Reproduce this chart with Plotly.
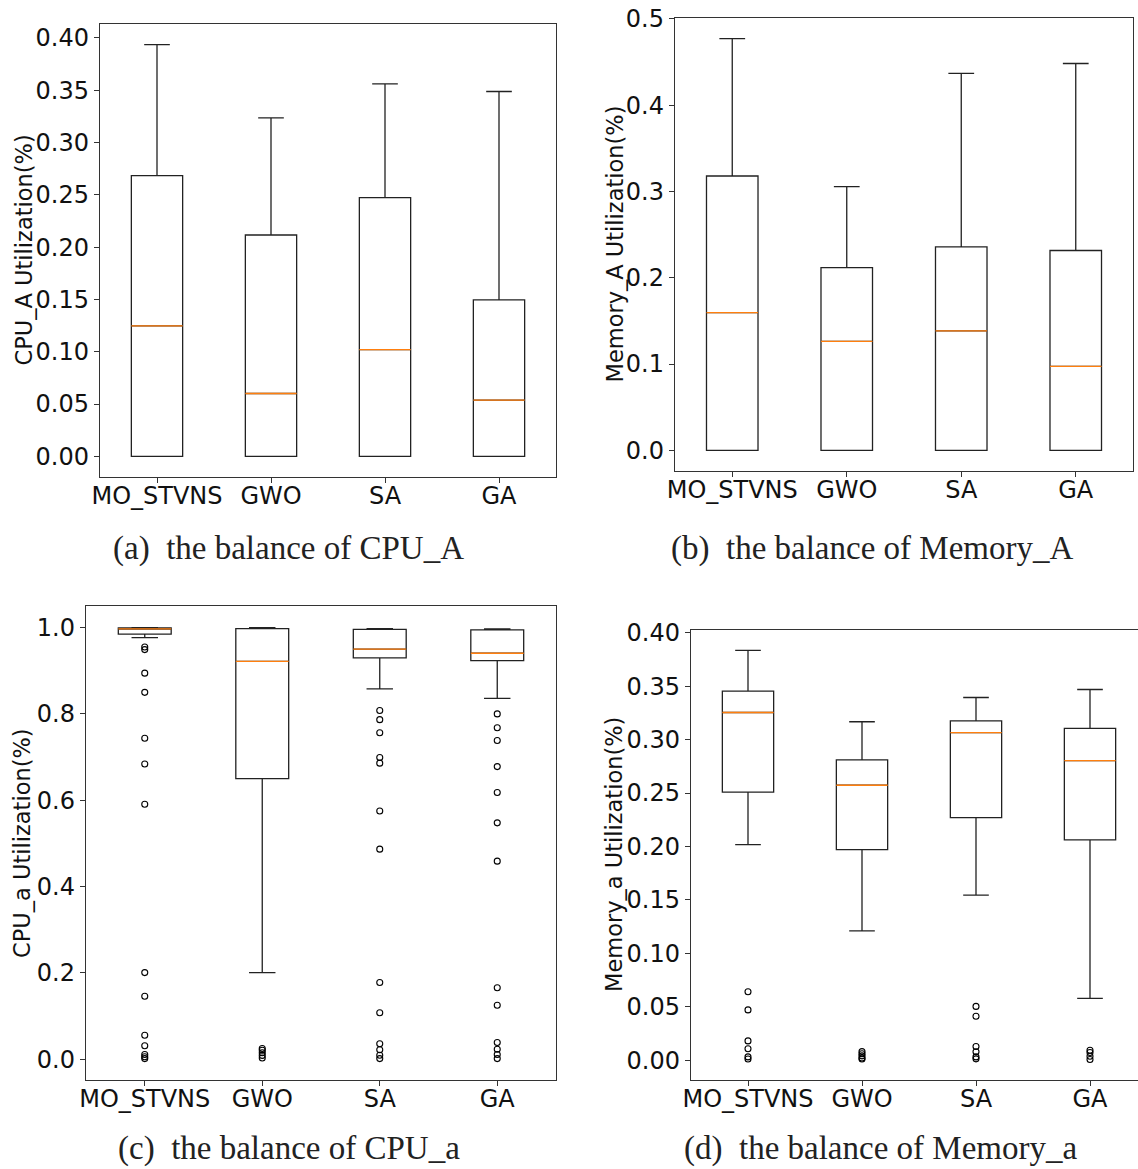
import plotly.graph_objects as go

W, H = 1138, 1169

CATS = ["MO_STVNS", "GWO", "SA", "GA"]
POS = [1, 2, 3, 4]

# (a) CPU_A
cpuA_lo = [0.0, 0.0, 0.0, 0.0]
cpuA_q1 = [0.0, 0.0, 0.0, 0.0]
cpuA_med = [0.1247, 0.0601, 0.1021, 0.0538]
cpuA_q3 = [0.2683, 0.2116, 0.2473, 0.1496]
cpuA_hi = [0.3936, 0.3236, 0.3561, 0.3488]
cpuA_out = [[], [], [], []]

# (b) Memory_A
memA_lo = [0.0, 0.0, 0.0, 0.0]
memA_q1 = [0.0, 0.0, 0.0, 0.0]
memA_med = [0.1595, 0.1262, 0.1384, 0.0974]
memA_q3 = [0.3179, 0.2117, 0.2359, 0.2316]
memA_hi = [0.4771, 0.3057, 0.4368, 0.4483]
memA_out = [[], [], [], []]

# (c) CPU_a
cpua_lo = [0.9766, 0.2008, 0.8578, 0.8360]
cpua_q1 = [0.9850, 0.6500, 0.9297, 0.9234]
cpua_med = [0.9970, 0.9219, 0.9500, 0.9406]
cpua_q3 = [0.9990, 0.9977, 0.9960, 0.9945]
cpua_hi = [1.0000, 1.0000, 0.9977, 0.9969]
cpua_out = [
    [0.955, 0.949, 0.8945, 0.85, 0.7437, 0.684, 0.5906, 0.2008, 0.146, 0.0555, 0.0313, 0.011, 0.006, 0.0016],
    [0.025, 0.021, 0.015, 0.009, 0.003],
    [0.8078, 0.7867, 0.7563, 0.6992, 0.686, 0.575, 0.4867, 0.178, 0.1078, 0.0359, 0.0219, 0.0094, 0.0016],
    [0.80, 0.768, 0.7383, 0.678, 0.618, 0.5477, 0.459, 0.1656, 0.125, 0.039, 0.0234, 0.011, 0.0016],
]

# (d) Memory_a
mema_lo = [0.2017, 0.1209, 0.1545, 0.0578]
mema_q1 = [0.2508, 0.1970, 0.2269, 0.2061]
mema_med = [0.3254, 0.2573, 0.3065, 0.2803]
mema_q3 = [0.3453, 0.2810, 0.3176, 0.3105]
mema_hi = [0.3835, 0.3167, 0.3394, 0.3469]
mema_out = [
    [0.064, 0.047, 0.018, 0.0106, 0.003, 0.001],
    [0.008, 0.006, 0.004, 0.002, 0.001],
    [0.0503, 0.041, 0.0127, 0.0078, 0.003, 0.0012],
    [0.0093, 0.0071, 0.0037, 0.0006],
]

Y_TITLES = ["CPU_A Utilization(%)", "Memory_A Utilization(%)",
            "CPU_a Utilization(%)", "Memory_a Utilization(%)"]
CAPTIONS = ["(a)\u2002the balance of CPU_A", "(b)\u2002the balance of Memory_A",
            "(c)\u2002the balance of CPU_a", "(d)\u2002the balance of Memory_a"]

panels = [
    dict(lo=cpuA_lo, q1=cpuA_q1, med=cpuA_med, q3=cpuA_q3, hi=cpuA_hi, out=cpuA_out,
         px=(100, 556), py=(24, 477), yr=(-0.0197, 0.4133), xr=(0.5, 4.5),
         dtick=0.05, fmt=".2f", mirror=True, tx=23, cap=(288, 549)),
    dict(lo=memA_lo, q1=memA_q1, med=memA_med, q3=memA_q3, hi=memA_hi, out=memA_out,
         px=(675, 1133), py=(18, 471), yr=(-0.0239, 0.501), xr=(0.5, 4.5),
         dtick=0.1, fmt=".1f", mirror=True, tx=614, cap=(872, 549)),
    dict(lo=cpua_lo, q1=cpua_q1, med=cpua_med, q3=cpua_q3, hi=cpua_hi, out=cpua_out,
         px=(86, 556), py=(606, 1080), yr=(-0.048, 1.05), xr=(0.5, 4.5),
         dtick=0.2, fmt=".1f", mirror=True, tx=22, cap=(289, None)),
    dict(lo=mema_lo, q1=mema_q1, med=mema_med, q3=mema_q3, hi=mema_hi, out=mema_out,
         px=(691, 1138), py=(630, 1080), yr=(-0.0186, 0.4026), xr=(0.5, 0.5 + 447 / 114),
         dtick=0.05, fmt=".2f", mirror=False, tx=614, cap=(880, None)),
]

BLACK = "#222222"
ORANGE = "#ff7f0e"
TICKFONT = dict(family="DejaVu Sans", size=24, color="#111111")

fig = go.Figure()
layout = dict(width=W, height=H, autosize=False, margin=dict(l=0, r=0, t=0, b=0, pad=0),
              template="none",
              paper_bgcolor="white", plot_bgcolor="white", showlegend=False,
              boxmode="overlay", annotations=[])

for i, p in enumerate(panels, start=1):
    xa = "x" if i == 1 else f"x{i}"
    ya = "y" if i == 1 else f"y{i}"
    fig.add_trace(go.Box(
        x=POS, q1=p["q1"], median=p["med"], q3=p["q3"],
        lowerfence=p["lo"], upperfence=p["hi"],
        width=0.45, whiskerwidth=0.5, boxpoints=False,
        line=dict(color=BLACK, width=1.3), fillcolor="rgba(0,0,0,0)",
        xaxis=xa, yaxis=ya, hoverinfo="skip"))
    fig.add_trace(go.Box(
        x=POS, q1=p["med"], median=p["med"], q3=p["med"],
        lowerfence=p["med"], upperfence=p["med"],
        width=0.45, whiskerwidth=0, boxpoints=False,
        line=dict(color=ORANGE, width=1.3), fillcolor="rgba(0,0,0,0)",
        xaxis=xa, yaxis=ya, hoverinfo="skip"))
    ox, oy = [], []
    for pos, vals in zip(POS, p["out"]):
        ox += [pos] * len(vals)
        oy += vals
    if oy:
        fig.add_trace(go.Scatter(
            x=ox, y=oy, mode="markers",
            marker=dict(symbol="circle-open", size=6, color="black", line=dict(width=1.1)),
            xaxis=xa, yaxis=ya, hoverinfo="skip"))

    x0, x1 = p["px"]
    y0, y1 = p["py"]
    xkey = "xaxis" if i == 1 else f"xaxis{i}"
    ykey = "yaxis" if i == 1 else f"yaxis{i}"
    layout[xkey] = dict(
        domain=[x0 / W, x1 / W], anchor=ya, range=list(p["xr"]), automargin=False,
        tickmode="array", tickvals=POS, ticktext=CATS, ticklabelstandoff=-8,
        showgrid=False, zeroline=False, showline=True, linecolor="#333333", linewidth=1.4,
        mirror=True, ticks="outside", ticklen=5, tickwidth=1.2, tickcolor="#333333",
        tickfont=TICKFONT, fixedrange=True)
    layout[ykey] = dict(
        domain=[1 - y1 / H, 1 - y0 / H], anchor=xa, range=list(p["yr"]), automargin=False,
        tick0=0, dtick=p["dtick"], tickformat=p["fmt"],
        showgrid=False, zeroline=False, showline=True, linecolor="#333333", linewidth=1.4,
        mirror=p["mirror"], ticks="outside", ticklen=5, tickwidth=1.2, tickcolor="#333333",
        tickfont=TICKFONT, fixedrange=True)
    layout["annotations"].append(dict(
        text=Y_TITLES[i - 1], textangle=-90, showarrow=False,
        xref="paper", yref="paper", x=p["tx"] / W, y=1 - (y0 + y1) / 2 / H,
        xanchor="center", yanchor="middle",
        font=dict(family="DejaVu Sans", size=22.5, color="#111111")))
    cx, cy = p["cap"]
    cap = dict(text=CAPTIONS[i - 1], showarrow=False, xref="paper", yref="paper",
               x=cx / W, xanchor="center",
               font=dict(family="Liberation Serif", size=33, color="#222222"))
    if cy is None:
        cap.update(y=0, yanchor="bottom")
    else:
        cap.update(y=1 - cy / H, yanchor="middle")
    layout["annotations"].append(cap)

fig.update_layout(**layout)
fig.write_html("out.html")
